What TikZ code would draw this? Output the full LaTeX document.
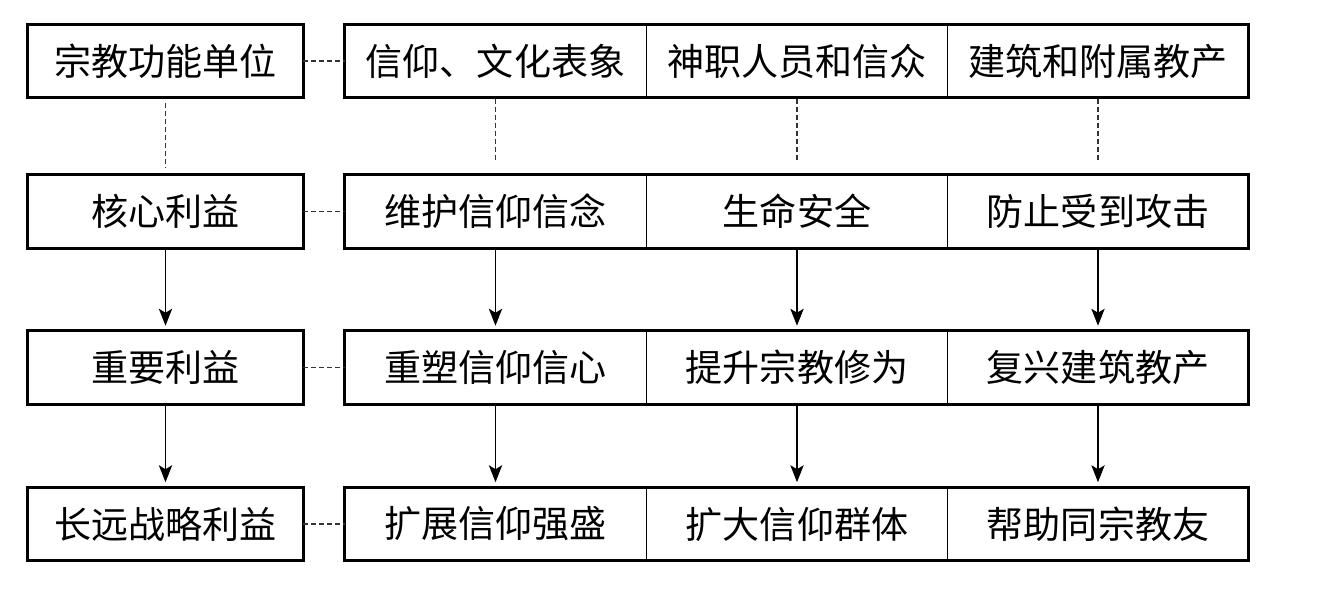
\documentclass[tikz,border=0pt]{standalone}
\usepackage{fontspec}
\newfontfamily\cjk{Noto Sans CJK SC}
\usetikzlibrary{arrows.meta}
\begin{document}
\begin{tikzpicture}[x=0.75pt,y=-0.75pt,
  lbox/.style={minimum width=206.25pt, minimum height=54.75pt, inner sep=0pt, font=\cjk\fontsize{27.8}{30}\selectfont},
  cell/.style={minimum width=225.75pt, minimum height=54.75pt, inner sep=0pt, font=\cjk\fontsize{27.8}{30}\selectfont},
  frame/.style={line width=2.3pt},
  divider/.style={line width=0.9pt},
  dashline/.style={line width=0.8pt, dash pattern=on 3.5pt off 2.5pt, color=black!80},
  arr/.style={line width=1pt, -{Stealth[length=12.75pt, width=10pt, inset=3pt]}, shorten >=3.75pt}
]
\useasboundingbox (0,0) rectangle (1321,593);
% left column
\node[lbox] (L1) at (165.5,61) {宗教功能单位};
\node[lbox] (L2) at (165.5,211.5) {核心利益};
\node[lbox] (L3) at (165.5,367.5) {重要利益};
\node[lbox] (L4) at (165.5,524) {长远战略利益};
% right cells
\node[cell] (a1) at (495.5,61) {信仰、文化表象};
\node[cell] (b1) at (797,61) {神职人员和信众};
\node[cell] (c1) at (1098,61) {建筑和附属教产};
\node[cell] (a2) at (495.5,211.5) {维护信仰信念};
\node[cell] (b2) at (797,211.5) {生命安全};
\node[cell] (c2) at (1098,211.5) {防止受到攻击};
\node[cell] (a3) at (495.5,367.5) {重塑信仰信心};
\node[cell] (b3) at (797,367.5) {提升宗教修为};
\node[cell] (c3) at (1098,367.5) {复兴建筑教产};
\node[cell] (a4) at (495.5,524) {扩展信仰强盛};
\node[cell] (b4) at (797,524) {扩大信仰群体};
\node[cell] (c4) at (1098,524) {帮助同宗教友};
% frames and dividers
\foreach \r in {1,2,3,4}{
  \draw[frame] (L\r.north west) rectangle (L\r.south east);
  \draw[frame] (a\r.north west) rectangle (c\r.south east);
  \draw[divider] (a\r.north east) -- (a\r.south east);
  \draw[divider] (b\r.north east) -- (b\r.south east);
  \draw[dashline] (L\r.east) -- (a\r.west);
}
% dashed verticals row1 -> row2
\draw[dashline, shorten <=4pt, shorten >=5pt] (L1.south) -- (L2.north);
\draw[dashline, shorten <=1pt, shorten >=9pt] (a1.south) -- (a2.north);
\draw[dashline, shorten <=1pt, shorten >=9pt] (b1.south) -- (b2.north);
\draw[dashline, shorten <=1pt, shorten >=9pt] (c1.south) -- (c2.north);
% arrows
\foreach \n in {L,a,b,c}{
  \draw[arr] (\n2.south) -- (\n3.north);
  \draw[arr] (\n3.south) -- (\n4.north);
}
\end{tikzpicture}
\end{document}
